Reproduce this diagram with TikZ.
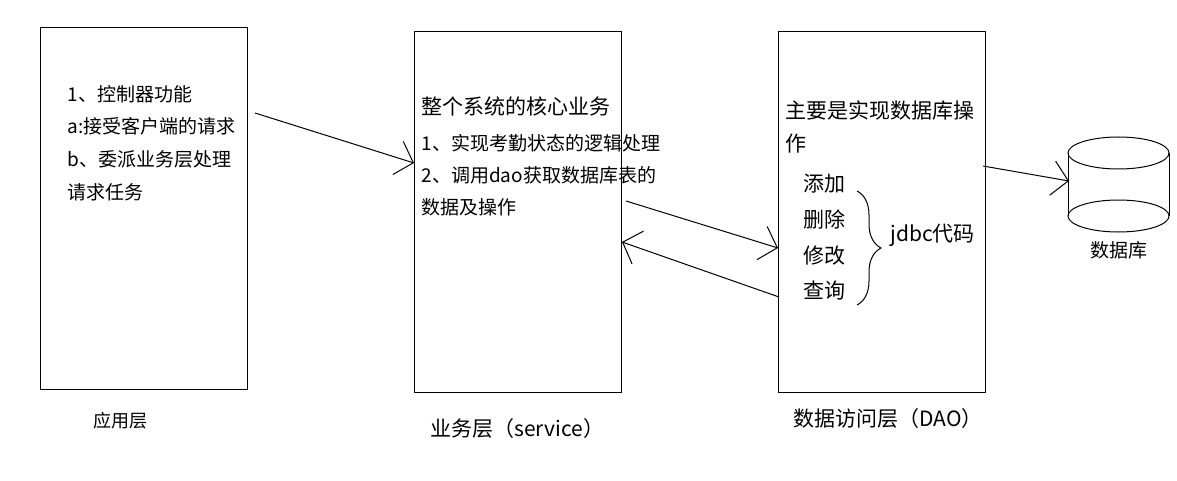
\documentclass[tikz,border=0pt]{standalone}
\usepackage{fontspec}
\setmainfont{Noto Sans CJK SC}
\usetikzlibrary{arrows.meta, decorations.pathreplacing}
\tikzstyle{layer}=[draw, inner sep=0pt, minimum width=155.25pt, minimum height=271pt]
\tikzstyle{txt}=[anchor=west, inner sep=0pt, text height=0.88em, text depth=0.12em, font=\fontsize{14.25pt}{17pt}\selectfont]
\tikzstyle{big}=[txt, font=\fontsize{15.75pt}{19pt}\selectfont]
\tikzstyle{link}=[-{Straight Barb[length=12pt,width=26pt]}]

\begin{document}
\begin{tikzpicture}[x=0.75pt, y=-0.75pt, line width=0.75pt]
\useasboundingbox (0,0) rectangle (1177,481);
\node [layer] (app) at (143.5,208.5){};
\node [layer] (svc) at (517.5,212){};
\node [layer] (dao) at (881.5,212){};
% application layer
\node [txt] (a1) at (67,96) {1、控制器功能};
\node [txt] (a2) at (67,128) {a:接受客户端的请求};
\node [txt] (a3) at (67,161) {b、委派业务层处理};
\node [txt] (a4) at (67,194) {请求任务};
% service layer
\node [big] (s0) at (421,109) {整个系统的核心业务};
\node [txt] (s1) at (421,145) {1、实现考勤状态的逻辑处理};
\node [txt] (s2) at (421,177) {2、调用dao获取数据库表的};
\node [txt] (s3) at (421,209) {数据及操作};
% dao layer
\node [big] (d0) at (785,113) {主要是实现数据库操};
\node [big] (d1) at (785,146) {作};
\node [big] (add) at (803,186) {添加};
\node [big] (del) at (803,222) {删除};
\node [big] (upd) at (803,258) {修改};
\node [big] (qry) at (803,293) {查询};
\node [big] (jdbc) at (890,236) {jdbc代码};
\draw [decorate, decoration={brace, amplitude=18pt}] (857,191) -- (857,305);
% database
\coordinate (db) at (1118.5,153);
\draw (db) ellipse [x radius=37.9pt, y radius=12pt];
\draw (1118.5,216) ellipse [x radius=37.9pt, y radius=12pt];
\draw (1068,153) -- (1068,216) (1169,153) -- (1169,216);
\node [txt, font=\fontsize{14.25pt}{17pt}\selectfont] (dbl) at (1090,252) {数据库};
% captions
\node [txt, font=\fontsize{13.5pt}{16pt}\selectfont] (appl) at (93,422) {应用层};
\node [txt, font=\fontsize{15.75pt}{18pt}\selectfont] (svcl) at (430,431) {业务层（service）};
\node [txt, font=\fontsize{15.75pt}{18pt}\selectfont] (daol) at (793,421) {数据访问层（DAO）};
% arrows
\coordinate (p1) at (255,113); \coordinate (p2) at (414,163);
\coordinate (p3) at (626,201); \coordinate (p4) at (778,248);
\coordinate (p5) at (779,297); \coordinate (p6) at (622,242);
\coordinate (p7) at (983,166); \coordinate (p8) at (1069,181);
\draw [link] (p1) -- (p2);
\draw [link] (p3) -- (p4);
\draw [link] (p5) -- (p6);
\draw [link] (p7) -- (p8);
\end{tikzpicture}
\end{document}
